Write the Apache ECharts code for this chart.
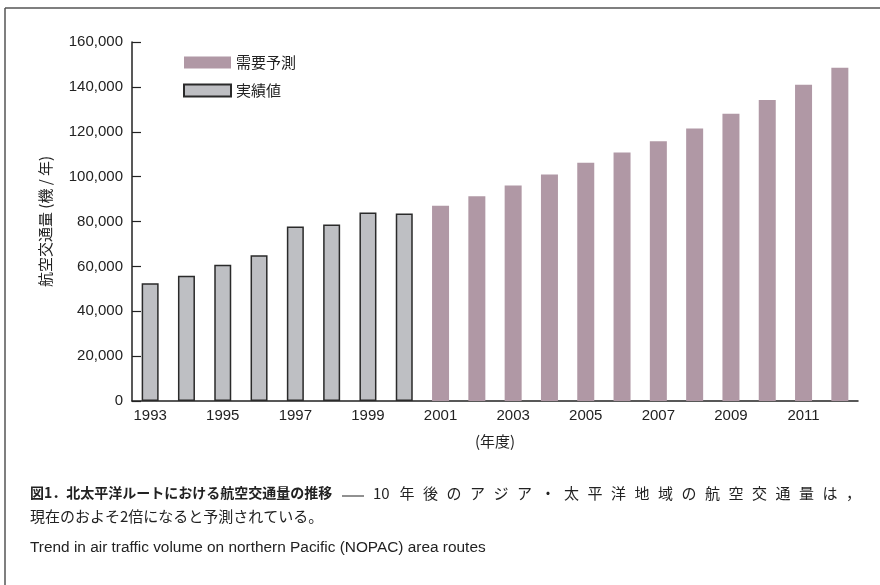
<!DOCTYPE html>
<html>
<head>
<meta charset="utf-8">
<script src="https://cdn.jsdelivr.net/npm/echarts@6/dist/echarts.min.js"></script>
<style>
  html, body { margin: 0; padding: 0; background: #fff; }
  #chart { width: 880px; height: 585px; }
</style>
</head>
<body>
<div id="chart"></div>
<script>
// 年度
const years = ["1993", "1994", "1995", "1996", "1997", "1998", "1999", "2000",
  "2001", "2002", "2003", "2004", "2005", "2006", "2007", "2008", "2009", "2010", "2011", "2012"];
// 実績値 (1993-2000)
const actual = [52500, 55800, 60700, 65000, 77800, 78700, 84000, 83600,
  "-", "-", "-", "-", "-", "-", "-", "-", "-", "-", "-", "-"];
// 需要予測 (2001-2012)
const forecast = ["-", "-", "-", "-", "-", "-", "-", "-",
  87000, 91200, 96000, 101000, 106200, 110800, 115800, 121500, 128000, 134100, 141000, 148500];
const yTicks = [0, 20000, 40000, 60000, 80000, 100000, 120000, 140000, 160000];

const jp = '"Noto Sans CJK JP", sans-serif';
const latin = '"Liberation Sans", Arial, sans-serif';
const textColor = "#222";

const myChart = echarts.init(document.getElementById("chart"));

// 1行目の本文は両端揃えになっているので一文字ずつ並べる
const line1 = "10年後のアジア・太平洋地域の航空交通量は，";
const chars = Array.from(line1.replace("10", "\u0001"));
const captionChars = [];
const x0 = 376, x1 = 846;
const step = (x1 - x0) / (chars.length - 1);
chars.forEach((c, i) => {
  captionChars.push({
    type: "text",
    left: x0 + i * step - (c === "\u0001" ? 3 : 0),
    top: 486,
    style: {
      text: c === "\u0001" ? "10" : c,
      font: '15px ' + jp,
      fill: textColor,
    },
  });
});

myChart.setOption({
  animation: false,
  grid: { left: 132, right: 22, top: 42, bottom: 184 },
  legend: {
    data: ["需要予測", "実績値"],
    orient: "vertical",
    left: 178,
    top: 50,
    itemWidth: 47,
    itemHeight: 12,
    itemGap: 13,
    icon: "rect",
    textStyle: { fontFamily: jp, fontSize: 15, color: textColor },
  },
  xAxis: {
    type: "category",
    data: years,
    name: "(年度)",
    nameLocation: "middle",
    nameGap: 33,
    nameTextStyle: { fontFamily: jp, fontSize: 15, color: textColor },
    axisLine: { lineStyle: { color: "#222", width: 1.5 } },
    axisTick: { interval: 0, inside: true, length: 9, lineStyle: { color: "#222", width: 1.2 } },
    axisLabel: { interval: 1, margin: 7, fontFamily: latin, fontSize: 15, color: textColor },
  },
  yAxis: {
    type: "value",
    min: yTicks[0],
    max: yTicks[yTicks.length - 1],
    interval: yTicks[1] - yTicks[0],
    name: "航空交通量 (機 / 年)",
    nameLocation: "middle",
    nameRotate: 90,
    nameGap: 79,
    nameTextStyle: { fontFamily: jp, fontSize: 15, color: textColor },
    splitLine: { show: false },
    axisLine: { show: true, lineStyle: { color: "#222", width: 1.5 } },
    axisTick: { show: true, inside: true, length: 9, lineStyle: { color: "#222", width: 1.2 } },
    axisLabel: {
      margin: 9,
      fontFamily: latin,
      fontSize: 15,
      color: textColor,
      formatter: (v) => v.toLocaleString("en-US"),
    },
  },
  series: [
    {
      name: "実績値",
      type: "bar",
      stack: "all",
      data: actual,
      barWidth: 17,
      itemStyle: { color: "#bebfc3", borderColor: "#2a2a2a", borderWidth: 1.5 },
    },
    {
      name: "需要予測",
      type: "bar",
      stack: "all",
      data: forecast,
      barWidth: 17,
      itemStyle: { color: "#b098a5" },
    },
  ],
  graphic: [
    // 枠線
    { type: "line", shape: { x1: 5, y1: 8, x2: 880, y2: 8 }, style: { stroke: "#555", lineWidth: 1.5 } },
    { type: "line", shape: { x1: 5, y1: 8, x2: 5, y2: 585 }, style: { stroke: "#555", lineWidth: 1.5 } },
    // キャプション
    {
      type: "text",
      left: 30,
      top: 486,
      style: { text: "図1．北太平洋ルートにおける航空交通量の推移", font: 'bold 14px ' + jp, fill: textColor },
    },
    {
      type: "line",
      shape: { x1: 342, y1: 496, x2: 364, y2: 496 },
      style: { stroke: textColor, lineWidth: 1 },
    },
    ...captionChars,
    {
      type: "text",
      left: 30,
      top: 509,
      style: { text: "現在のおよそ2倍になると予測されている。", font: '15px ' + jp, fill: textColor },
    },
    {
      type: "text",
      left: 30,
      top: 540,
      style: { text: "Trend in air traffic volume on northern Pacific (NOPAC) area routes", font: '15.4px ' + latin, fill: textColor },
    },
  ],
});
</script>
</body>
</html>
